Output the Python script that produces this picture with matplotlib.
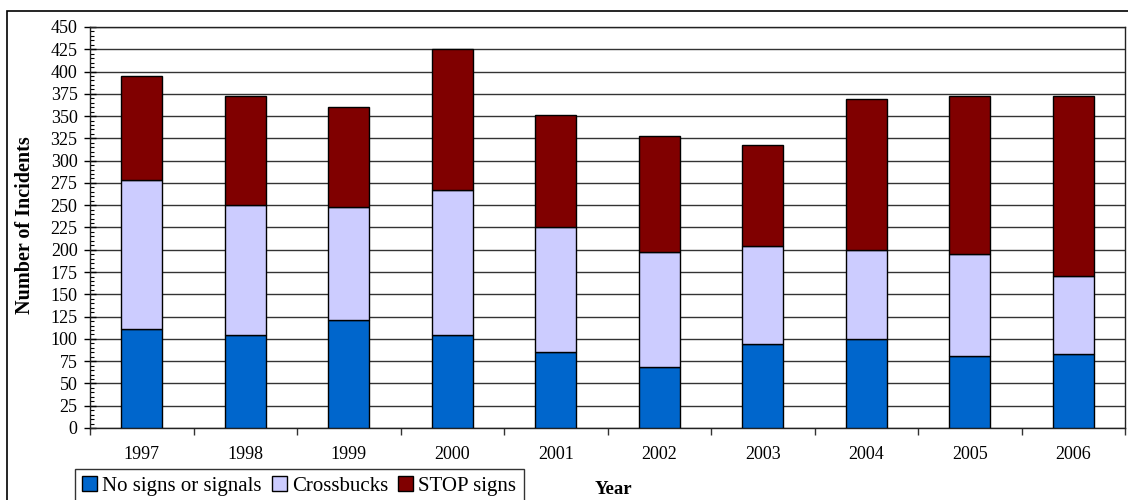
import matplotlib
matplotlib.use("Agg")
import matplotlib.pyplot as plt
from matplotlib.patches import Rectangle, Patch
from matplotlib.ticker import MultipleLocator, FixedLocator
import numpy as np

years = ["1997", "1998", "1999", "2000", "2001", "2002", "2003", "2004", "2005", "2006"]
no_signs = [111, 104, 121, 104, 85, 68, 94, 100, 81, 83]
crossbucks = [167, 146, 127, 163, 141, 129, 110, 100, 114, 88]
stop_signs = [117, 123, 112, 158, 125, 131, 114, 169, 178, 202]
series_names = ["No signs or signals", "Crossbucks", "STOP signs"]
colors = ["#0066CC", "#CCCCFF", "#800000"]

plt.rcParams['font.family'] = ['Liberation Serif', 'DejaVu Serif']

W, H = 1128, 500
fig = plt.figure(figsize=(W / 100, H / 100), dpi=100)
ax = fig.add_axes([90 / W, 1 - 428 / H, (1125 - 90) / W, (428 - 27) / H])

x = np.arange(len(years))
bottom = np.zeros(len(years))
for vals, c in zip([no_signs, crossbucks, stop_signs], colors):
    ax.bar(x, vals, width=0.4, bottom=bottom, color=c, edgecolor='black',
           linewidth=1.0, zorder=3)
    bottom = bottom + np.array(vals)

ax.set_xlim(-0.5, len(years) - 0.5)
ax.set_ylim(0, 450)
ax.yaxis.set_major_locator(MultipleLocator(25))
ax.yaxis.set_minor_locator(MultipleLocator(5))
ax.grid(axis='y', which='major', color='#333333', linewidth=1.0, zorder=0)
ax.set_axisbelow(True)

ax.set_xticks(x)
ax.set_xticklabels(years)
ax.xaxis.set_minor_locator(FixedLocator(np.arange(-0.5, len(years), 1.0)))
ax.tick_params(axis='x', which='major', length=0, pad=13, labelsize=13)
ax.tick_params(axis='x', which='minor', length=5, direction='out', width=1, color='#333333')
ax.tick_params(axis='y', which='major', length=8, direction='inout', width=1, pad=5, labelsize=13)
ax.tick_params(axis='y', which='minor', length=3, direction='in', width=0.8)

for s in ax.spines.values():
    s.set_color('#222222')
    s.set_linewidth(1.0)

fig.text(25 / W, 1 - 225 / H, "Number of Incidents", rotation=90, ha='center', va='center',
         fontsize=14.5, fontweight='bold')
fig.text(613 / W, 1 - 489 / H, "Year", ha='center', va='center', fontsize=13.5, fontweight='bold')

handles = [Patch(facecolor=c, edgecolor='black', linewidth=1.0) for c in colors]
leg = fig.legend(handles, series_names, loc='upper left', bbox_to_anchor=(75 / W, 1 - 469 / H),
                 bbox_transform=fig.transFigure, ncol=3, frameon=True, fancybox=False,
                 edgecolor='black', fontsize=15, handlelength=0.7, handleheight=0.7,
                 handletextpad=0.25, columnspacing=0.5, borderpad=0.35, borderaxespad=0)
leg.get_frame().set_linewidth(1.0)

# outer frame around chart area
fig.patches.append(Rectangle((7 / W, -0.1), 1.2, 1 - 11 / H + 0.1, transform=fig.transFigure,
                             fill=False, edgecolor='black', linewidth=1.2, zorder=0))

fig.savefig("out.png", dpi=100)
